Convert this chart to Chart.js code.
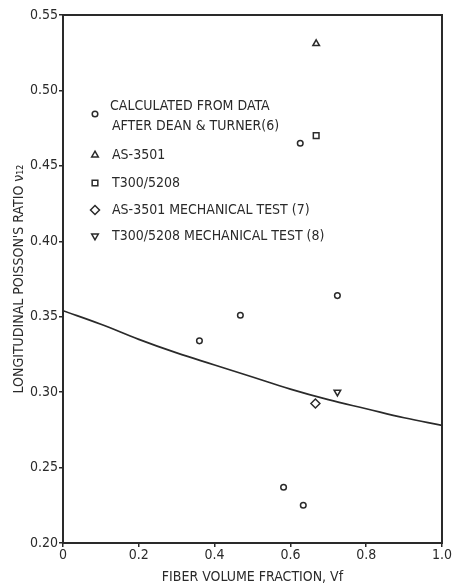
<!DOCTYPE html>
<html>
<head>
<meta charset="utf-8">
<script src="https://cdn.jsdelivr.net/npm/chart.js@4/dist/chart.umd.min.js"></script>
<style>
  html, body { margin: 0; padding: 0; background: #fff; }
  #wrap { position: relative; width: 452px; height: 587px; }
</style>
</head>
<body>
<div id="wrap"><canvas id="chart" width="452" height="587"></canvas></div>
<script>
// ==========================
// DATA
// ==========================
const deanX = [0.36, 0.468, 0.626, 0.724, 0.582, 0.634];
const deanY = [0.334, 0.351, 0.465, 0.364, 0.237, 0.225];

const as3501X = [0.668];
const as3501Y = [0.531];

const t300X = [0.668];
const t300Y = [0.470];

const as3501MechX = [0.666];
const as3501MechY = [0.2925];

const t300MechX = [0.724];
const t300MechY = [0.300];

const curveX = [0, 0.1, 0.2, 0.3, 0.4, 0.5, 0.6, 0.7, 0.8, 0.9, 1.0];
const curveY = [0.354, 0.345, 0.335, 0.326, 0.318, 0.310, 0.302, 0.295, 0.289, 0.283, 0.278];

const legendLabels = [
  ["CALCULATED FROM DATA", "AFTER DEAN & TURNER(6)"],
  ["AS-3501"],
  ["T300/5208"],
  ["AS-3501 MECHANICAL TEST (7)"],
  ["T300/5208 MECHANICAL TEST (8)"]
];

// ==========================
// HELPER
// ==========================
function pts(xs, ys) {
  return xs.map((x, i) => ({ x: x, y: ys[i] }));
}

const INK = "#2a2a2a";
const FONT = "'DejaVu Sans Condensed', 'Liberation Sans Narrow', 'DejaVu Sans', sans-serif";

const markers = [
  { pointStyle: "circle", radius: 2.8, rotation: 0 },
  { pointStyle: "triangle", radius: 3.8, rotation: 0 },
  { pointStyle: "rect", radius: 4, rotation: 0 },
  { pointStyle: "rectRot", radius: 4.5, rotation: 0 },
  { pointStyle: "triangle", radius: 3.8, rotation: 180 }
];

function markerSet(m) {
  return {
    showLine: false,
    pointStyle: m.pointStyle,
    pointRadius: m.radius,
    pointRotation: m.rotation,
    pointBorderColor: INK,
    pointBackgroundColor: "#fff",
    pointBorderWidth: 1.5,
    borderColor: INK,
    backgroundColor: "#fff"
  };
}

// ==========================
// PLUGINS
// ==========================
const framePlugin = {
  id: "frame",
  afterDraw(chart) {
    const { ctx, chartArea: a } = chart;
    ctx.save();
    ctx.strokeStyle = INK;
    ctx.lineWidth = 2;
    ctx.strokeRect(a.left, a.top, a.right - a.left, a.bottom - a.top);
    ctx.restore();
  }
};

const legendPlugin = {
  id: "innerLegend",
  afterDraw(chart) {
    const ctx = chart.ctx;
    const rows = [114, 155, 183, 210, 236];
    ctx.save();
    ctx.font = "14px " + FONT;
    ctx.textBaseline = "middle";
    legendLabels.forEach((lines, i) => {
      const m = markers[i];
      ctx.strokeStyle = INK;
      ctx.fillStyle = "#fff";
      ctx.lineWidth = 1.5;
      Chart.helpers.drawPoint(ctx, {
        pointStyle: m.pointStyle,
        radius: m.radius,
        rotation: m.rotation,
        borderWidth: 1.5
      }, 95, rows[i]);
      ctx.fillStyle = INK;
      if (lines.length === 2) {
        ctx.fillText(lines[0], 110, rows[i] - 8);
        ctx.fillText(lines[1], 112, rows[i] + 12);
      } else {
        ctx.fillText(lines[0], 112, rows[i]);
      }
    });
    ctx.restore();
  }
};

// ==========================
// CHART
// ==========================
const ctx = document.getElementById("chart");

new Chart(ctx, {
  type: "scatter",
  data: {
    datasets: [
      Object.assign({ data: pts(deanX, deanY) }, markerSet(markers[0])),
      Object.assign({ data: pts(as3501X, as3501Y) }, markerSet(markers[1])),
      Object.assign({ data: pts(t300X, t300Y) }, markerSet(markers[2])),
      Object.assign({ data: pts(as3501MechX, as3501MechY) }, markerSet(markers[3])),
      Object.assign({ data: pts(t300MechX, t300MechY) }, markerSet(markers[4])),
      {
        data: pts(curveX, curveY),
        showLine: true,
        borderColor: INK,
        borderWidth: 1.7,
        pointRadius: 0,
        tension: 0.4,
        fill: false
      }
    ]
  },
  options: {
    responsive: false,
    animation: false,
    layout: { padding: { top: 15, right: 6, left: 0, bottom: 0 } },
    plugins: {
      legend: { display: false },
      tooltip: { enabled: false }
    },
    scales: {
      x: {
        type: "linear",
        min: 0,
        max: 1.0,
        afterFit(scale) { scale.height = 44; },
        border: { display: false },
        grid: { drawOnChartArea: false, drawTicks: true, tickLength: 4, color: INK, lineWidth: 1.5 },
        ticks: {
          stepSize: 0.2,
          padding: 0,
          color: INK,
          font: { family: FONT, size: 14 },
          callback: v => (v === 0 ? "0" : v.toFixed(1))
        },
        title: {
          display: true,
          text: "FIBER VOLUME FRACTION, Vf",
          color: INK,
          font: { family: FONT, size: 14 },
          padding: { top: 0, bottom: 1 }
        }
      },
      y: {
        type: "linear",
        min: 0.20,
        max: 0.55,
        afterFit(scale) { scale.width = 63; },
        border: { display: false },
        grid: { drawOnChartArea: false, drawTicks: true, tickLength: 4, color: INK, lineWidth: 1.5 },
        ticks: {
          stepSize: 0.05,
          padding: 1,
          color: INK,
          font: { family: FONT, size: 14 },
          callback: v => v.toFixed(2)
        },
        title: {
          display: true,
          text: "LONGITUDINAL POISSON'S RATIO ν₁₂",
          color: INK,
          font: { family: FONT, size: 14 },
          padding: { top: 11, bottom: 0 }
        }
      }
    }
  },
  plugins: [framePlugin, legendPlugin]
});
</script>
</body>
</html>
